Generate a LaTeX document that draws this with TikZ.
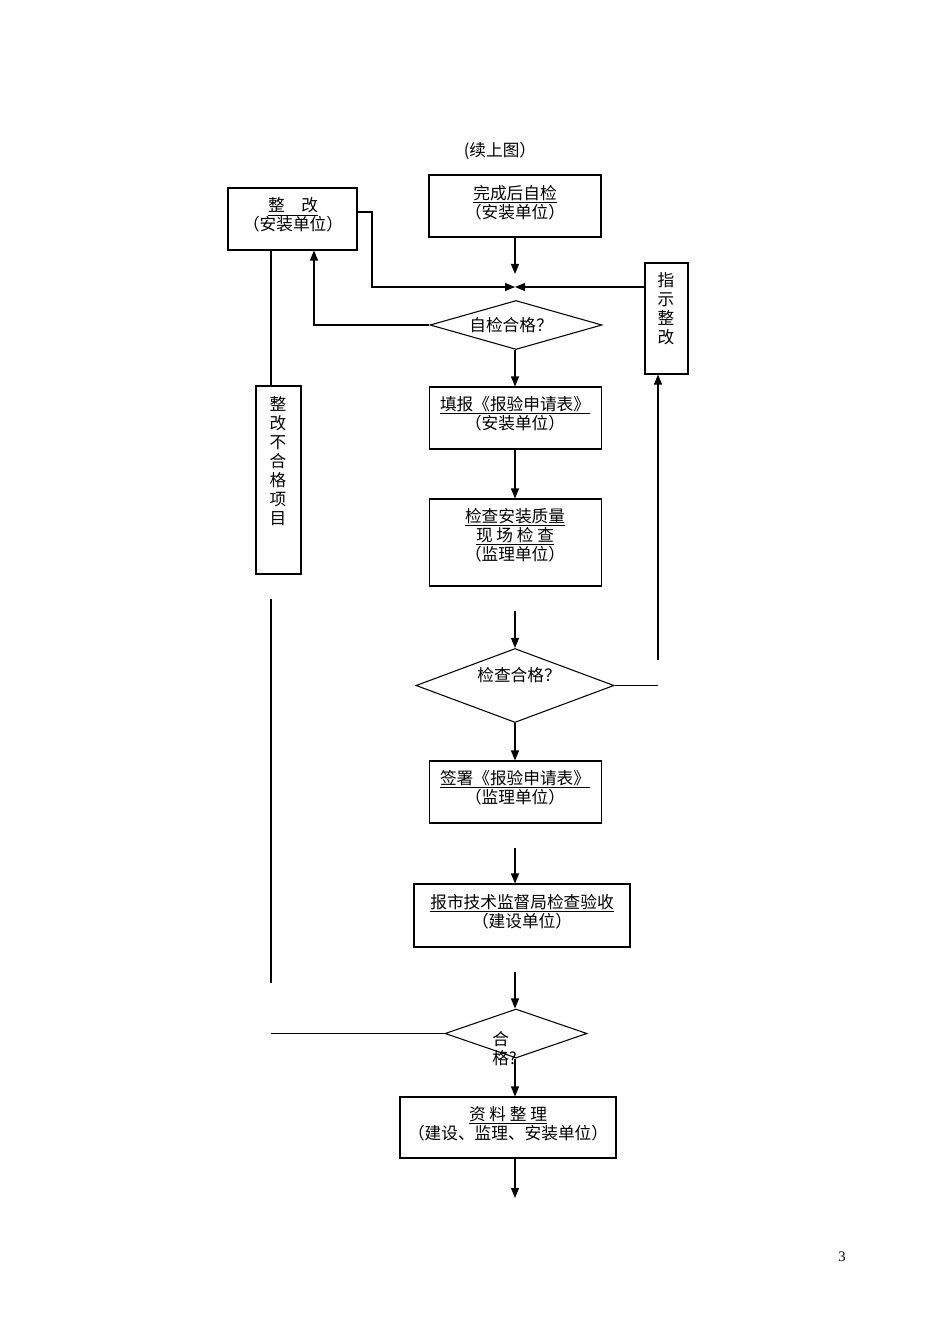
\documentclass[tikz,border=0pt]{standalone}
\usepackage{fontspec}
\setmainfont{Liberation Serif}
\newfontfamily\cjk{Noto Sans CJK SC}
\usetikzlibrary{arrows.meta,shapes.geometric}
\begin{document}
\begin{tikzpicture}[x=0.75pt,y=-0.75pt,
  ln/.style={line width=0.8pt},
  arr/.style={line width=0.8pt,-{Triangle[length=7.5pt,width=6pt]}},
  box/.style={draw,line width=0.8pt,inner sep=0pt},
  dia/.style={draw,line width=0.8pt,diamond,inner sep=0pt},
  txt/.style={font=\cjk\fontsize{12.5}{14.25}\selectfont,align=center,inner sep=0pt}]
\useasboundingbox (0,0) rectangle (950,1344);

\coordinate (trunk) at (515,0);

% title and page number
\node[txt] (title) at (500,151) {(续上图）};
\node[font=\fontsize{11}{13}\selectfont,inner sep=0pt] (pg) at (842,1257) {3};

% boxes
\node[box,minimum width={129*0.75pt},minimum height={62*0.75pt}] (b0) at (292.5,219) {};
\node[box,minimum width={172*0.75pt},minimum height={62*0.75pt}] (b1) at (515,206) {};
\node[box,minimum width={43*0.75pt},minimum height={111*0.75pt}] (b2) at (666.5,318.5) {};
\node[dia,minimum width={172*0.75pt},minimum height={49*0.75pt}] (d1) at (516,325) {};
\node[box,minimum width={172*0.75pt},minimum height={62*0.75pt}] (b3) at (515.5,418) {};
\node[box,minimum width={172*0.75pt},minimum height={87*0.75pt}] (b4) at (515.5,542.5) {};
\node[box,minimum width={45*0.75pt},minimum height={188*0.75pt}] (b5) at (278.5,480) {};
\node[dia,minimum width={198*0.75pt},minimum height={74*0.75pt}] (d2) at (515,685.5) {};
\node[box,minimum width={172*0.75pt},minimum height={62*0.75pt}] (b6) at (515.5,792) {};
\node[box,minimum width={216*0.75pt},minimum height={63*0.75pt}] (b7) at (522,915.5) {};
\node[dia,minimum width={142*0.75pt},minimum height={49*0.75pt}] (d3) at (516,1033.5) {};
\node[box,minimum width={216*0.75pt},minimum height={61*0.75pt}] (b8) at (508,1127.5) {};

% texts
\node[txt] (t0) at (293,215) {\underline{整　改}\\（安装单位）};
\node[txt] (t1) at (515,202.5) {\underline{完成后自检}\\（安装单位）};
\node[txt] (t2) at (666,308.5) {指\\示\\整\\改};
\node[txt] (t3) at (511,325) {自检合格？};
\node[txt] (t4) at (515,413.5) {\underline{填报《报验申请表》}\\（安装单位）};
\node[txt] (t5) at (515,535) {\underline{检查安装质量}\\\underline{现 场 检 查}\\（监理单位）};
\node[txt] (t6) at (278,461) {整\\改\\不\\合\\格\\项\\目};
\node[txt] (t7) at (519,675) {检查合格？};
\node[txt] (t8) at (515,787.5) {\underline{签署《报验申请表》}\\（监理单位）};
\node[txt] (t9) at (522,911.5) {\underline{报市技术监督局检查验收}\\（建设单位）};
\node[txt,align=left,anchor=north west] (t10) at (492,1031) {合\\格?};
\node[txt] (t11) at (508,1123.5) {\underline{资 料 整 理}\\（建设、监理、安装单位）};

% coordinates for free ends
\coordinate (jn) at (515,287);
\coordinate (v1) at (515,274);
\coordinate (c1) at (372,212);
\coordinate (c2) at (372,287);
\coordinate (c3) at (314,325);
\coordinate (c4) at (658,685.5);
\coordinate (c5) at (658,660);
\coordinate (c6) at (271,599);
\coordinate (c7) at (271,983);
\coordinate (c8) at (271,1033.5);
\coordinate (s1) at (515,611);
\coordinate (s2) at (515,848);
\coordinate (s3) at (515,972);
\coordinate (e1) at (515,1198);

% connectors
\draw[arr] (b1.south) -- (v1);
\draw[arr] (b0.east |- c1) -- (c1) -- (c2) -- (jn);
\draw[arr] (b2.west |- jn) -- (jn);
\draw[arr] (d1.west) -- (c3) -- (c3 |- b0.south);
\draw[arr] (d1.south -| trunk) -- (b3.north -| trunk);
\draw[arr] (b3.south -| trunk) -- (b4.north -| trunk);
\draw[ln] (b0.south -| c6) -- (b5.north -| c6);
\draw[ln] (c6) -- (c7);
\draw[arr] (s1) -- (d2.north);
\draw[ln] (d2.east) -- (c4);
\draw[arr] (c5) -- (b2.south -| c5);
\draw[arr] (d2.south) -- (b6.north -| trunk);
\draw[arr] (s2) -- (b7.north -| trunk);
\draw[arr] (s3) -- (d3.north -| trunk);
\draw[ln] (c8) -- (d3.west);
\draw[arr] (d3.south -| trunk) -- (b8.north -| trunk);
\draw[arr] (b8.south -| trunk) -- (e1);
\end{tikzpicture}
\end{document}
